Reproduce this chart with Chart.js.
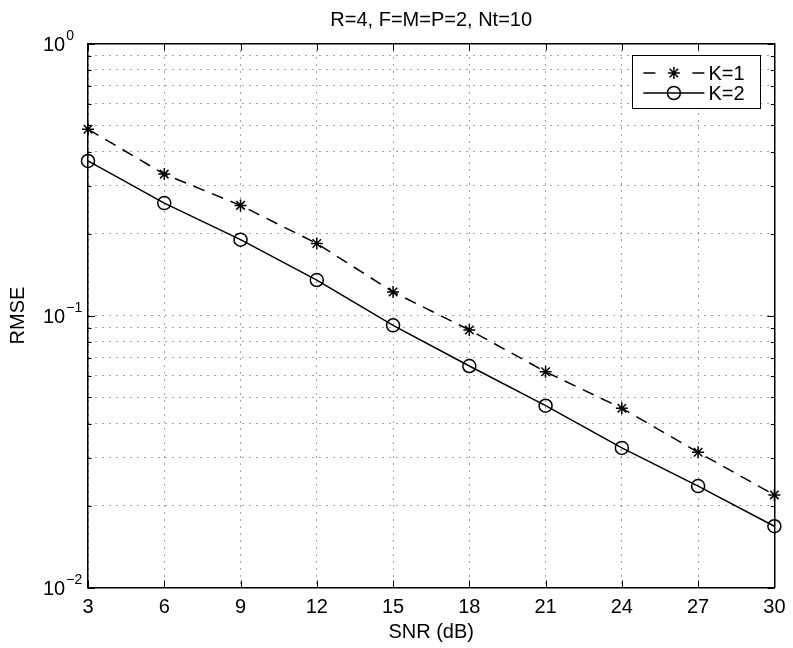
<!DOCTYPE html>
<html>
<head>
<meta charset="utf-8">
<script src="https://cdn.jsdelivr.net/npm/chart.js@4.4.1/dist/chart.umd.min.js"></script>
<style>
  html, body { margin: 0; padding: 0; background: #fff; }
  #wrap { width: 793px; height: 648px; }
</style>
</head>
<body>
<div id="wrap"><canvas id="rmseChart" width="793" height="648"></canvas></div>
<script>
const snr = [3, 6, 9, 12, 15, 18, 21, 24, 27, 30];
const rmseK1 = [0.484, 0.331, 0.254, 0.184, 0.122, 0.0885, 0.0621, 0.0456, 0.0314, 0.0219];
const rmseK2 = [0.370, 0.259, 0.190, 0.135, 0.0920, 0.0652, 0.0466, 0.0326, 0.0236, 0.0168];
const seriesNames = ['K=1', 'K=2'];
const xTicks = [3, 6, 9, 12, 15, 18, 21, 24, 27, 30];
const yDecades = [-2, -1, 0];
const chartTitle = 'R=4, F=M=P=2, Nt=10';
const xTitle = 'SNR (dB)';
const yTitle = 'RMSE';

const FONT = "'Liberation Sans', Arial, Helvetica, sans-serif";
const FS = 20;
Chart.defaults.font.family = FONT;
Chart.defaults.color = '#000';

// grid values for the log axis: 1..9 in each decade, plus the top
const yGrid = [];
yDecades.forEach(d => {
    if (d === yDecades[yDecades.length - 1]) {
        yGrid.push(Math.pow(10, d));
        return;
    }
    for (let m = 1; m <= 9; m++) yGrid.push(m * Math.pow(10, d));
});

const points = ys => snr.map((x, i) => ({ x: x, y: ys[i] }));

const gridStyle = { color: '#444', lineWidth: 1, drawTicks: false };
const borderStyle = { display: true, color: '#000', width: 1.5, dash: [1, 6] };

// inward tick marks and the 10^n labels of the y axis
const axisDecor = {
    id: 'axisDecor',
    afterDraw(chart) {
        const { ctx, chartArea: a, scales } = chart;
        ctx.save();
        ctx.strokeStyle = '#000';
        ctx.lineWidth = 1;
        ctx.beginPath();
        xTicks.forEach(v => {
            const px = Math.round(scales.x.getPixelForValue(v)) + 0.5;
            ctx.moveTo(px, a.bottom); ctx.lineTo(px, a.bottom - 7);
            ctx.moveTo(px, a.top); ctx.lineTo(px, a.top + 7);
        });
        yGrid.forEach(v => {
            const py = Math.round(scales.y.getPixelForValue(v)) + 0.5;
            const major = Math.abs(Math.log10(v) - Math.round(Math.log10(v))) < 1e-9;
            const len = major ? 7 : 3.5;
            ctx.moveTo(a.left, py); ctx.lineTo(a.left + len, py);
            ctx.moveTo(a.right, py); ctx.lineTo(a.right - len, py);
        });
        ctx.stroke();

        ctx.fillStyle = '#000';
        ctx.textAlign = 'left';
        ctx.textBaseline = 'alphabetic';
        yDecades.forEach(d => {
            const py = scales.y.getPixelForValue(Math.pow(10, d));
            ctx.font = FS + 'px ' + FONT;
            ctx.fillText('10', 43, py + 7);
            const w = ctx.measureText('10').width;
            ctx.font = '14px ' + FONT;
            ctx.fillText(d < 0 ? '\u2212' + Math.abs(d) : String(d), 43 + w + 1, py - 4);
        });
        ctx.restore();
    }
};

// legend box in the upper right corner of the plot
const boxLegend = {
    id: 'boxLegend',
    afterDraw(chart) {
        const { ctx, chartArea: a } = chart;
        const right = a.right - 14.5, top = a.top + 11;
        const w = 127.5, h = 53;
        const left = right - w;
        ctx.save();
        ctx.fillStyle = '#fff';
        ctx.fillRect(left, top, w, h);
        ctx.strokeStyle = '#000';
        ctx.lineWidth = 1;
        ctx.strokeRect(Math.round(left) + 0.5, Math.round(top) + 0.5, Math.round(w), Math.round(h));

        chart.data.datasets.forEach((ds, i) => {
            const y = top + 18.5 + i * 20;
            const x0 = left + 11, x1 = left + 72, xm = (x0 + x1) / 2;
            ctx.save();
            ctx.strokeStyle = ds.borderColor;
            ctx.lineWidth = ds.borderWidth;
            // short dashes on both sides of the marker, as in the figure
            ctx.setLineDash(ds.borderDash ? [12, 37] : []);
            ctx.beginPath();
            ctx.moveTo(x0, y); ctx.lineTo(x1, y);
            ctx.stroke();
            ctx.restore();
            ctx.strokeStyle = ds.pointBorderColor;
            ctx.fillStyle = ds.pointBackgroundColor;
            ctx.lineWidth = ds.pointBorderWidth;
            Chart.helpers.drawPoint(ctx, {
                pointStyle: ds.pointStyle, radius: ds.pointRadius,
                borderWidth: ds.pointBorderWidth, rotation: 0
            }, xm, y);
            ctx.fillStyle = '#000';
            ctx.font = FS + 'px ' + FONT;
            ctx.textAlign = 'left';
            ctx.textBaseline = 'middle';
            ctx.fillText(ds.label, x1 + 4, y + 1);
        });
        ctx.restore();
    }
};

const ctx = document.getElementById('rmseChart').getContext('2d');

const rmseChart = new Chart(ctx, {
    type: 'line',
    data: {
        datasets: [{
            label: seriesNames[0],
            data: points(rmseK1),
            borderColor: '#000',
            borderWidth: 1.5,
            borderDash: [12, 8],
            pointStyle: 'star',
            pointRadius: 6,
            pointBorderWidth: 1.5,
            pointBorderColor: '#000',
            pointBackgroundColor: 'rgba(0,0,0,0)',
            fill: false,
            tension: 0,
            clip: false
        }, {
            label: seriesNames[1],
            data: points(rmseK2),
            borderColor: '#000',
            borderWidth: 1.5,
            pointStyle: 'circle',
            pointRadius: 6.5,
            pointBorderWidth: 1.5,
            pointBorderColor: '#000',
            pointBackgroundColor: 'rgba(0,0,0,0)',
            fill: false,
            tension: 0,
            clip: false
        }]
    },
    options: {
        responsive: false,
        animation: false,
        devicePixelRatio: 1,
        layout: { padding: 0 },
        plugins: {
            legend: { display: false },
            tooltip: { enabled: false },
            title: { display: false }
        },
        scales: {
            x: {
                type: 'linear',
                position: 'bottom',
                min: 3,
                max: 30,
                afterBuildTicks: s => { s.ticks = xTicks.map(v => ({ value: v })); },
                ticks: { font: { size: FS }, padding: 7.5, maxRotation: 0, autoSkip: false },
                grid: gridStyle,
                border: borderStyle,
                title: { display: true, text: xTitle, font: { size: FS }, padding: { top: 0, bottom: 4 } },
                afterFit: s => { s.height = 60.5; }
            },
            xTop: {
                type: 'linear',
                position: 'top',
                min: 3,
                max: 30,
                ticks: { display: false },
                grid: { drawOnChartArea: false, drawTicks: false },
                border: { display: true, color: '#000', width: 1.5 },
                title: { display: true, text: chartTitle, font: { size: FS }, padding: { top: 8, bottom: 0 } },
                afterFit: s => { s.height = 43.5; }
            },
            y: {
                type: 'logarithmic',
                position: 'left',
                min: 0.01,
                max: 1,
                afterBuildTicks: s => { s.ticks = yGrid.map(v => ({ value: v })); },
                ticks: { display: false },
                grid: gridStyle,
                border: borderStyle,
                title: { display: true, text: yTitle, font: { size: FS }, padding: { top: 6.5, bottom: 0 } },
                afterFit: s => { s.width = 88; }
            },
            yRight: {
                type: 'logarithmic',
                position: 'right',
                min: 0.01,
                max: 1,
                ticks: { display: false },
                grid: { drawOnChartArea: false, drawTicks: false },
                border: { display: true, color: '#000', width: 1.5 },
                afterFit: s => { s.width = 15; }
            }
        }
    },
    plugins: [axisDecor, boxLegend]
});
</script>
</body>
</html>
